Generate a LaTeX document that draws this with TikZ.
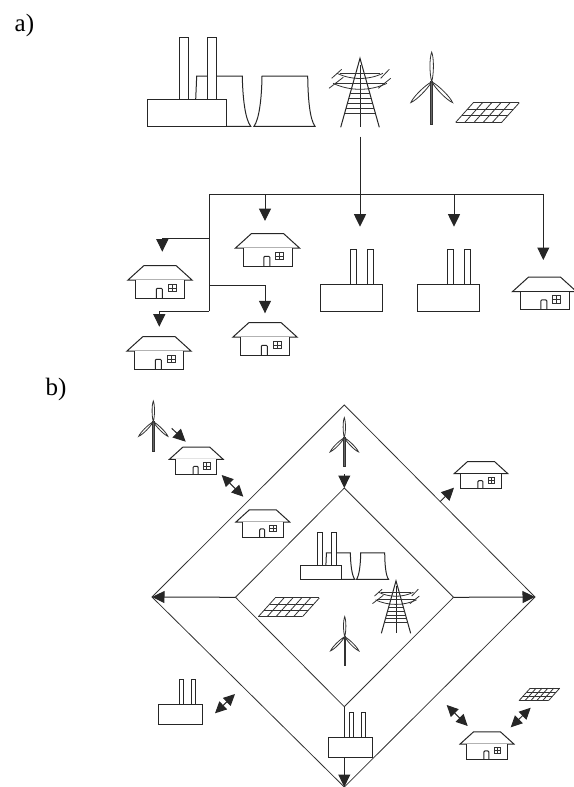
\documentclass[tikz,border=0pt]{standalone}
\usepackage{fontspec}
\setmainfont{Liberation Serif}
\usetikzlibrary{arrows.meta}
\tikzset{
  wire/.style={line width=1pt, draw=black!85},
  feed/.style={wire, -{Triangle[width=12pt,length=12.5pt]}},
  swap/.style={wire, {Triangle[width=11pt,length=11.5pt]}-{Triangle[width=11pt,length=11.5pt]}},
  grid line/.style={line width=0.8pt, draw=black!80},
  label text/.style={font=\fontsize{25}{25}\selectfont, inner sep=0pt, anchor=base west},
  house/.pic={
    \draw[wire, fill=white] (-16,-14.5) -- (16,-14.5) -- (32,0) -- (-32,0) -- cycle;
    \draw[wire, fill=white] (-24.5,0) -- (-24.5,18) -- (24.5,18) -- (24.5,0);
    \draw[wire, rounded corners=1pt] (-3.7,18) -- (-3.7,8.3) -- (2.3,8.3) -- (2.3,18);
    \draw[grid line] (8.3,4) rectangle (16.3,11.7);
    \draw[grid line] (12.3,4) -- (12.3,11.7);
    \draw[grid line] (8.3,7.9) -- (16.3,7.9);
  },
  factory/.pic={
    \draw[wire, fill=white] (-1.2,0) -- (-1.2,-35) -- (4.5,-35) -- (4.5,0);
    \draw[wire, fill=white] (16.2,0) -- (16.2,-35) -- (21.8,-35) -- (21.8,0);
    \draw[wire, fill=white] (-30.8,0) rectangle (30.8,27);
  },
  plant/.pic={
    \draw[wire] (48,-27) -- (49,-50.3) -- (94.6,-50.3) .. controls (95,-28) and (97.5,-7) .. (103,0) -- (0,0);
    \draw[wire, fill=white] (31.6,-27) -- (31.6,-89) -- (40.6,-89) -- (40.6,-27);
    \draw[wire, fill=white] (59.6,-27) -- (59.6,-89) -- (68.6,-89) -- (68.6,-27);
    \draw[wire, fill=white] (0,-27) rectangle (78.6,0);
    \draw[wire] (106.3,0) .. controls (111.5,-7) and (114,-28) .. (114.3,-50.3) -- (160,-50.3) .. controls (160.3,-28) and (162,-7) .. (167.3,0) -- cycle;
  },
  pylon/.pic={
    \draw[wire] (-19.3,0) -- (0,-69) -- (19.3,0);
    \draw[wire] (0,-62) -- (0,0);
    \foreach \ry in {-54,-44,-34,-29,-24,-19,-14} {
      \draw[grid line] ({-19.3*(69+\ry)/69},\ry) -- ({19.3*(69+\ry)/69},\ry);
    }
    \draw[grid line] (-20,-54) -- (20,-54);
    \draw[grid line] (-25,-44) -- (25,-44);
    \draw[grid line] (-23,-54) .. controls (-8,-47) and (8,-47) .. (23,-54);
    \draw[grid line] (-27,-44) .. controls (-10,-36) and (10,-36) .. (27,-44);
    \draw[grid line] (-28.3,-49) -- (-18.3,-58);
    \draw[grid line] (20.7,-49) -- (29.3,-58);
    \draw[grid line] (-31,-39) -- (-16.7,-50);
    \draw[grid line] (18.3,-39) -- (30.7,-49);
  },
  turbine/.pic={
    \draw[grid line, fill=black!60] (-1,0) rectangle (1,42.3);
    \foreach \ra in {0,135,-135} {
      \draw[grid line, fill=white, rotate=\ra] (0,0) .. controls (2.3,-8) and (2.3,-24) .. (0,-29.5) .. controls (-2.3,-24) and (-2.3,-8) .. (0,0);
    }
  },
  panel/.pic={
    \foreach \rx in {0,9.2,18.4,27.6,36.8,46} {
      \draw[grid line] (\rx,0) -- ({\rx+17.6},-19.6);
    }
    \foreach \rf in {0,1,2,3} {
      \draw[grid line] ({17.6*\rf/3},{-19.6*\rf/3}) -- ({46+17.6*\rf/3},{-19.6*\rf/3});
    }
  },
}
\begin{document}
\begin{tikzpicture}[x=1pt, y=-1pt]
  \useasboundingbox (0,0) rectangle (573,787);

  % part a
  \node[label text] (La) at (14.5,31) {a)};
  \pic at (147.7,126.3) {plant};
  \pic at (360,127.3) {pylon};
  \pic at (431.7,81.7) {turbine};
  \pic at (455.7,122.3) {panel};
  \pic at (160,280) {house};
  \pic at (267.5,248) {house};
  \pic at (265,337) {house};
  \pic at (159,351) {house};
  \pic at (544.5,291.6) {house};
  \pic at (351.5,284.3) {factory};
  \pic at (448.7,284.3) {factory};

  \coordinate (trunk) at (360,136.7);
  \coordinate (busL) at (209.3,194);
  \coordinate (busR) at (543.3,194);
  \coordinate (down) at (209.3,311);
  \coordinate (tapA) at (209.3,238.3);
  \coordinate (tapB) at (209.3,285.7);
  \draw[wire] (busL) -- (busR);
  \draw[wire] (busL) -- (down);
  \draw[feed] (trunk) -- (360,226.7);
  \draw[feed] (265,194) -- (265,221);
  \draw[feed] (454,194) -- (454,226.7);
  \draw[feed] (busR) -- (543.3,260);
  \draw[feed] (tapA) -| (162.3,251.7);
  \draw[feed] (tapB) -| (265,313.3);
  \draw[feed] (down) -| (159.3,326.7);

  % part b
  \node[label text] (Lb) at (45.5,395) {b)};
  \coordinate (outerT) at (344.3,405);
  \coordinate (outerR) at (535,597);
  \coordinate (outerB) at (344.3,787);
  \coordinate (outerL) at (152,597);
  \coordinate (innerT) at (344.3,488);
  \coordinate (innerR) at (453.5,597.3);
  \coordinate (innerB) at (344.3,706.7);
  \coordinate (innerL) at (235.5,597.3);
  \draw[grid line] (outerT) -- (outerR) -- (outerB) -- (outerL) -- cycle;
  \draw[grid line] (innerT) -- (innerR) -- (innerB) -- (innerL) -- cycle;
  \draw[feed] (innerL) -- (outerL);
  \draw[feed] (innerR) -- (outerR);
  \draw[feed] (innerB) -- (outerB);
  \draw[feed] (344.3,474.3) -- (innerT);

  \pic[scale=0.525] at (300.7,579.3) {plant};
  \pic[scale=0.76] at (396,633.3) {pylon};
  \pic[scale=0.96] at (258.3,616.7) {panel};
  \pic[scale=0.68] at (344.7,636.7) {turbine};
  \pic[scale=0.68] at (344.3,437.7) {turbine};
  \pic[scale=0.7] at (153.3,421.7) {turbine};
  \pic[scale=0.84] at (196.3,459.3) {house};
  \pic[scale=0.84] at (262.8,522) {house};
  \pic[scale=0.84] at (481,473.7) {house};
  \pic[scale=0.84] at (487,744) {house};
  \pic[scale=0.72] at (180.2,704.7) {factory};
  \pic[scale=0.72] at (350.2,737.7) {factory};
  \pic[scale=0.64] at (519,700.7) {panel};

  \draw[feed] (171.7,428.3) -- (185.7,441.7);
  \draw[swap] (221.7,475) -- (243.3,496.7);
  \draw[feed] (440,501.7) -- (454,487.7);
  \draw[swap] (215,713.3) -- (235,694);
  \draw[swap] (446.7,705) -- (467.7,726);
  \draw[swap] (510.7,727.3) -- (530.7,707.7);
\end{tikzpicture}
\end{document}
